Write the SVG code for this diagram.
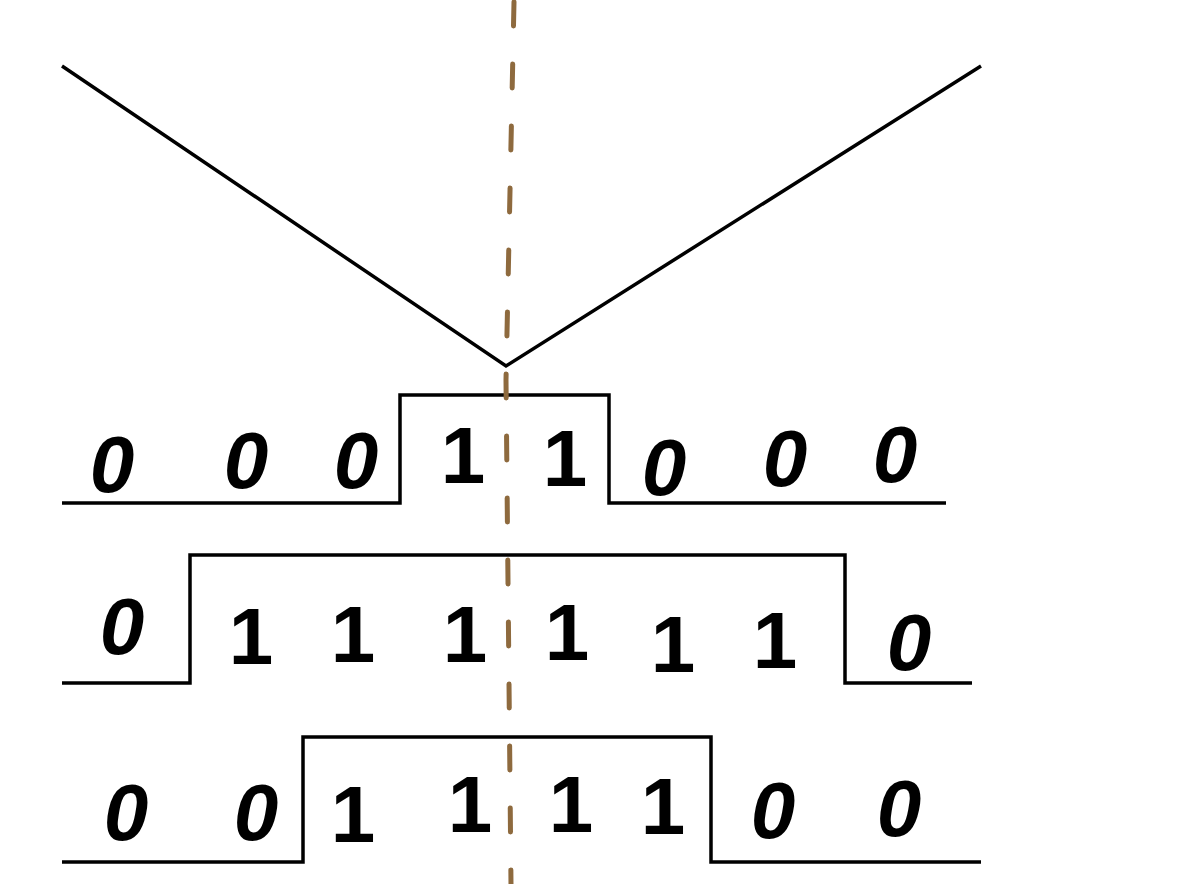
<svg xmlns="http://www.w3.org/2000/svg" width="1190" height="884" viewBox="0 0 1190 884">
<style>
.ln{fill:none;stroke:#000;stroke-width:3.5;stroke-linejoin:miter}
.ax{fill:none;stroke:#8E6A3E;stroke-width:5;stroke-linecap:round;stroke-dasharray:24 38}
.d{font-family:"Liberation Sans",Arial,sans-serif;font-size:80px;font-style:italic;font-weight:bold;fill:#000;text-anchor:middle}
.o{font-family:"Liberation Sans",Arial,sans-serif;font-size:80px;font-weight:bold;fill:#000;text-anchor:middle}
</style>
<rect width="1190" height="884" fill="#fff"/>
<g id="connectors">
<polyline id="vee" class="ln" points="62,66 506,366 981,66"/>
<polyline id="row1" class="ln" points="62,503 400,503 400,395 609,395 609,503 946,503"/>
<polyline id="row2" class="ln" points="62,683 190,683 190,555 845,555 845,683 972,683"/>
<polyline id="row3" class="ln" points="62,862 303,862 303,737 711,737 711,862 981,862"/>
<path id="axis" class="ax" d="M514,2 L506,380 L511,884"/>
</g>
<g id="r1">
<text class="d" x="112" y="492">0</text>
<text class="d" x="246" y="488">0</text>
<text class="d" x="356" y="488">0</text>
<text class="o" x="463" y="483">1</text>
<text class="o" x="565" y="486">1</text>
<text class="d" x="664" y="495">0</text>
<text class="d" x="785" y="486">0</text>
<text class="d" x="895" y="482">0</text>
</g>
<g id="r2">
<text class="d" x="122" y="654">0</text>
<text class="o" x="251" y="664">1</text>
<text class="o" x="353" y="662">1</text>
<text class="o" x="465" y="662">1</text>
<text class="o" x="567" y="660">1</text>
<text class="o" x="673" y="672">1</text>
<text class="o" x="775" y="668">1</text>
<text class="d" x="909" y="670">0</text>
</g>
<g id="r3">
<text class="d" x="126" y="840">0</text>
<text class="d" x="256" y="840">0</text>
<text class="o" x="353" y="842">1</text>
<text class="o" x="470" y="832">1</text>
<text class="o" x="571" y="832">1</text>
<text class="o" x="663" y="834">1</text>
<text class="d" x="773" y="838">0</text>
<text class="d" x="899" y="836">0</text>
</g>
</svg>
